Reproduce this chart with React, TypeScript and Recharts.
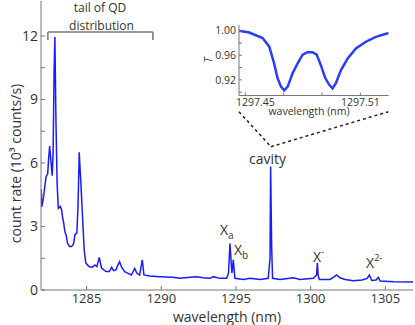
import React from 'react'
import { LineChart, Line, XAxis, YAxis, ReferenceLine, ReferenceDot } from 'recharts'

// main spectrum: wavelength (nm) vs count rate (10^3 counts/s)
const wavelength = [
  1281.96, 1282.0, 1282.1, 1282.29, 1282.4, 1282.46, 1282.53, 1282.6, 1282.7, 1282.76,
  1282.83, 1282.88, 1282.95, 1283.03, 1283.11, 1283.24, 1283.33, 1283.4, 1283.46, 1283.55,
  1283.63, 1283.73, 1283.86, 1284.0, 1284.13, 1284.22, 1284.35, 1284.43, 1284.51, 1284.56,
  1284.62, 1284.73, 1284.84, 1284.95, 1285.18, 1285.4, 1285.56, 1285.69, 1285.85, 1286.0,
  1286.3, 1286.52, 1286.68, 1286.81, 1286.97, 1287.08, 1287.21, 1287.33, 1287.55, 1287.75,
  1288.0, 1288.22, 1288.37, 1288.55, 1288.73, 1288.84, 1289.22, 1289.89, 1290.76, 1291.25,
  1291.92, 1292.37, 1292.79, 1293.26, 1293.48, 1293.93, 1294.38, 1294.5, 1294.6, 1294.67,
  1294.73, 1294.82, 1294.93, 1295.49, 1295.94, 1296.61, 1297.16, 1297.28, 1297.32, 1297.39,
  1297.45, 1297.95, 1298.84, 1299.29, 1300.18, 1300.39, 1300.45, 1300.5, 1300.58, 1301.3,
  1301.56, 1301.74, 1301.96, 1302.3, 1302.86, 1303.44, 1303.78, 1303.93, 1304.09, 1304.38,
  1304.53, 1304.65, 1305.54, 1306.85,
]
const countRate = [
  4.77, 3.93, 4.3, 5.35, 5.5, 6.2, 6.8, 6.2, 5.4, 6.5,
  10.5, 11.95, 8.0, 5.0, 3.86, 3.95, 3.78, 3.4, 3.2, 2.75,
  2.6, 2.2, 2.05, 2.05, 2.17, 2.6, 2.7, 4.0, 6.5, 5.8,
  5.05, 3.46, 1.89, 1.27, 1.1, 1.08, 1.18, 1.1, 1.54, 1.04,
  0.87, 0.87, 1.07, 0.92, 0.95, 1.15, 1.34, 1.1, 0.87, 0.8,
  0.71, 1.02, 0.79, 0.71, 1.42, 0.71, 0.66, 0.63, 0.6, 0.55,
  0.6, 0.63, 0.58, 0.55, 0.63, 0.55, 0.55, 0.8, 2.2, 1.4,
  0.8, 1.42, 0.55, 0.5, 0.55, 0.5, 0.55, 1.5, 5.83, 2.0,
  0.55, 0.5, 0.58, 0.5, 0.55, 0.7, 1.29, 0.7, 0.5, 0.5,
  0.62, 0.71, 0.58, 0.5, 0.44, 0.47, 0.55, 0.71, 0.45, 0.47,
  0.6, 0.42, 0.39, 0.38,
]

// inset: transmission around the cavity mode
const insetWavelength = [
  1297.4467, 1297.452, 1297.459, 1297.4625, 1297.465, 1297.4668, 1297.4686, 1297.4703,
  1297.4721, 1297.4747, 1297.4773, 1297.4799, 1297.4825, 1297.4851, 1297.4872, 1297.4894,
  1297.4917, 1297.4938, 1297.4955, 1297.4973, 1297.4999, 1297.5034, 1297.5077, 1297.5129,
  1297.5181, 1297.5234, 1297.5248,
]
const insetT = [
  1.0, 0.997, 0.988, 0.974, 0.947, 0.923, 0.909, 0.903,
  0.909, 0.931, 0.947, 0.961, 0.965, 0.965, 0.961, 0.944,
  0.923, 0.912, 0.906, 0.915, 0.936, 0.955, 0.971, 0.982,
  0.99, 0.995, 0.996,
]

const xTicks = [1285, 1290, 1295, 1300, 1305]
const yTicks = [0, 1.5, 3, 4.5, 6, 7.5, 9, 10.5, 12]
const insetXTicks = [1297.45, 1297.47, 1297.49, 1297.51]
const insetXLabels = ['1297.45', '', '', '1297.51']
const insetYTicks = [0.9, 0.92, 0.94, 0.96, 0.98, 1.0]
const insetYLabels = ['', '0.92', '', '0.96', '', '1.00']

// peak labels: [x, y, text, sub, sup]
const peakLabels: [number, number, string, string, string][] = [
  [1293.93, 2.6, 'X', 'a', ''],
  [1294.87, 1.65, 'X', 'b', ''],
  [1300.16, 1.32, 'X', '', '-'],
  [1303.71, 1.04, 'X', '', '2-'],
]

const FONT = '"Open Sans", sans-serif'
const TXT = '#333'
const FRAME = '#777'
const BLUE = '#1a1aff'

const data = wavelength.map((w, i) => ({ w, c: countRate[i] }))
const insetData = insetWavelength.map((w, i) => ({ w, t: insetT[i] }))

const Note = (p: any) => (
  <text x={p.cx} y={p.cy} fontSize={p.size ?? 14} fill={TXT} fontFamily={FONT} textAnchor={p.anchor ?? 'start'}>
    {p.text}
    {p.sub ? <tspan fontSize={10} dy={4}>{p.sub}</tspan> : null}
    {p.sup ? <tspan fontSize={9} dy={-7}>{p.sup}</tspan> : null}
  </text>
)

const InsetXTick = (p: any) => {
  const i = insetXTicks.findIndex((t) => Math.abs(t - p.payload.value) < 1e-6)
  const label = insetXLabels[i]
  if (!label) return null
  return (
    <text x={p.x + (i === 0 ? 10 : 0)} y={p.y} dy="0.71em" textAnchor="middle" fontSize={10.5} fill={TXT} fontFamily={FONT}>
      {label}
    </text>
  )
}

export default function App() {
  return (
    <div style={{ position: 'absolute', left: 0, top: 0, width: 415, height: 325, background: '#fff' }}>
      <LineChart width={415} height={325} data={data} margin={{ top: 1, right: 2, bottom: 0, left: 0 }}>
        <XAxis
          dataKey="w"
          type="number"
          domain={[1281.95, 1306.85]}
          allowDataOverflow
          ticks={xTicks}
          interval={0}
          height={35}
          stroke={FRAME}
          tickSize={-4}
          tickMargin={8}
          tick={{ fontSize: 13, fill: TXT, fontFamily: FONT }}
          label={{ value: 'wavelength (nm)', position: 'insideBottom', offset: 3, fontSize: 14, fill: TXT, fontFamily: FONT }}
        />
        <XAxis xAxisId="t" orientation="top" type="number" domain={[1281.95, 1306.85]} allowDataOverflow ticks={xTicks} interval={0} height={0} stroke={FRAME} tickSize={-4} tick={false} />
        <YAxis
          type="number"
          domain={[0, 13.65]}
          allowDataOverflow
          ticks={yTicks}
          interval={0}
          width={41}
          stroke={FRAME}
          tickSize={-4}
          tickMargin={7}
          tickFormatter={(v: number) => (v % 3 === 0 ? String(v) : '')}
          tick={{ fontSize: 14, fill: TXT, fontFamily: FONT }}
          label={{
            content: ({ viewBox }: any) => (
              <text
                x={viewBox.x + 15}
                y={163.5}
                transform={`rotate(-90 ${viewBox.x + 15} 163.5)`}
                textAnchor="middle"
                dominantBaseline="central"
                fontSize={14}
                fill={TXT}
                fontFamily={FONT}
              >
                count rate (10³ counts/s)
              </text>
            ),
          }}
        />
        <YAxis yAxisId="r" orientation="right" type="number" domain={[0, 13.65]} allowDataOverflow ticks={yTicks} interval={0} width={0} stroke={FRAME} tickSize={-4} tick={false} />

        {/* bracket over the QD tail */}
        <ReferenceLine segment={[{ x: 1282.41, y: 12.19 }, { x: 1289.44, y: 12.19 }]} stroke={FRAME} strokeWidth={1.5} />
        <ReferenceLine segment={[{ x: 1282.41, y: 12.19 }, { x: 1282.41, y: 11.81 }]} stroke={FRAME} strokeWidth={1.5} />
        <ReferenceLine segment={[{ x: 1289.44, y: 12.19 }, { x: 1289.44, y: 11.81 }]} stroke={FRAME} strokeWidth={1.5} />

        {/* zoom lines toward the inset */}
        <ReferenceLine segment={[{ x: 1295.2, y: 8.42 }, { x: 1297.34, y: 6.77 }]} stroke="#222" strokeWidth={1.5} strokeDasharray="3 3" />
        <ReferenceLine segment={[{ x: 1297.34, y: 6.77 }, { x: 1305.2, y: 8.42 }]} stroke="#222" strokeWidth={1.5} strokeDasharray="3 3" />

        <ReferenceDot x={1285.9} y={13.12} r={0} shape={(p: any) => <Note {...p} text="tail of QD" anchor="middle" size={12} />} />
        <ReferenceDot x={1286.0} y={12.3} r={0} shape={(p: any) => <Note {...p} text="distribution" anchor="middle" size={12} />} />
        <ReferenceDot x={1297.11} y={5.95} r={0} shape={(p: any) => <Note {...p} text="cavity" anchor="middle" />} />
        {peakLabels.map(([x, y, t, sub, sup]) => (
          <ReferenceDot key={`${t}${sub}${sup}`} x={x} y={y} r={0} shape={(p: any) => <Note {...p} text={t} sub={sub} sup={sup} />} />
        ))}

        <Line type="linear" dataKey="c" stroke={BLUE} strokeWidth={1.5} dot={false} isAnimationActive={false} />
      </LineChart>

      <div style={{ position: 'absolute', left: 200, top: 15 }}>
        <LineChart width={195} height={110} data={insetData} margin={{ top: 10, right: 6.3, bottom: 0, left: 0 }}>
          <XAxis
            dataKey="w"
            type="number"
            domain={[1297.4467, 1297.5248]}
            allowDataOverflow
            ticks={insetXTicks}
            interval={0}
            height={29.5}
            stroke={FRAME}
            tickSize={-3}
            tickMargin={6.5}
            tick={<InsetXTick />}
            label={{
              content: () => (
                <text x={109} y={100} textAnchor="middle" fontSize={10.5} fill={TXT} fontFamily={FONT}>
                  wavelength (nm)
                </text>
              ),
            }}
          />
          <XAxis xAxisId="t" orientation="top" type="number" domain={[1297.4467, 1297.5248]} allowDataOverflow ticks={insetXTicks} interval={0} height={0} stroke={FRAME} tickSize={-3} tick={false} />
          <YAxis
            type="number"
            domain={[0.8946, 1.0092]}
            allowDataOverflow
            ticks={insetYTicks}
            interval={0}
            width={39}
            stroke={FRAME}
            tickSize={-3}
            tickMargin={6}
            tickFormatter={(v: number) => insetYLabels[insetYTicks.findIndex((t) => Math.abs(t - v) < 1e-6)] ?? ''}
            tick={{ fontSize: 10.5, fill: TXT, fontFamily: FONT }}
            label={{
              content: () => (
                <text x={7} y={45} transform="rotate(-90 7 45)" textAnchor="middle" dominantBaseline="central" fontSize={11} fontStyle="italic" fill={TXT} fontFamily={FONT}>
                  T
                </text>
              ),
            }}
          />
          <YAxis yAxisId="r" orientation="right" type="number" domain={[0.8946, 1.0092]} allowDataOverflow ticks={insetYTicks} interval={0} width={0} stroke={FRAME} tickSize={-3} tick={false} />
          <Line type="linear" dataKey="t" stroke="#2a3cff" strokeWidth={2.5} dot={false} isAnimationActive={false} />
        </LineChart>
      </div>
    </div>
  )
}
